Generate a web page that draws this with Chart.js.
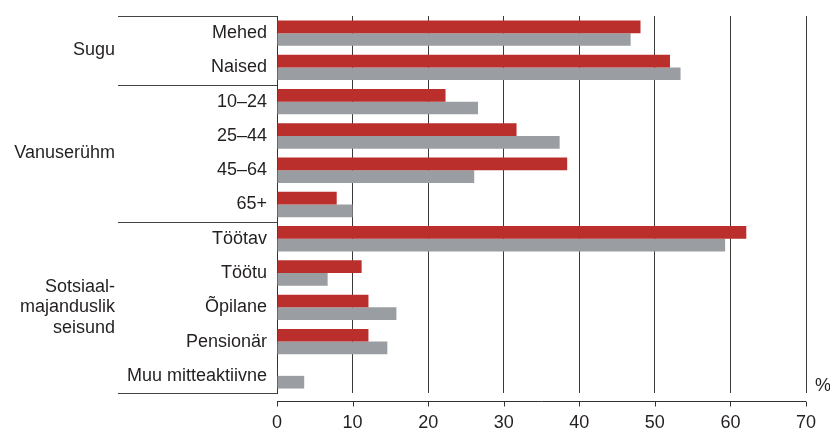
<!DOCTYPE html>
<html>
<head>
<meta charset="utf-8">
<script src="https://cdn.jsdelivr.net/npm/chart.js@4"></script>
<style>
  body { margin: 0; background: #fff; }
  #wrap { width: 830px; height: 429px; }
</style>
</head>
<body>
<div id="wrap"><canvas id="chart" width="830" height="429"></canvas></div>
<script>
// Andmed
const categories = ['Mehed', 'Naised', '10–24', '25–44', '45–64', '65+',
    'Töötav', 'Töötu', 'Õpilane', 'Pensionär', 'Muu mitteaktiivne'];
const redValues = [48.1, 52.0, 22.3, 31.7, 38.4, 7.9, 62.1, 11.2, 12.1, 12.1, null];
const grayValues = [46.8, 53.4, 26.6, 37.4, 26.1, 10.0, 59.3, 6.7, 15.8, 14.6, 3.6];
const groupNames = [['Sugu'], ['Vanuserühm'], ['Sotsiaal-', 'majanduslik', 'seisund']];
const groupSizes = [2, 4, 5];
const xMin = 0, xMax = 70, xStep = 10;

const FONT = "'Liberation Sans', Arial, Helvetica, sans-serif";
const TEXT = '#231f20';

// Grupid, eraldusjooned, eraldi x-telg ja %
const extrasPlugin = {
    id: 'extras',
    afterDraw(chart) {
        const ctx = chart.ctx;
        const area = chart.chartArea;
        const yScale = chart.scales.y;
        const xScale = chart.scales.x;
        const row = (area.bottom - area.top) / categories.length;

        ctx.save();
        ctx.strokeStyle = '#444';
        ctx.lineWidth = 1;
        ctx.fillStyle = TEXT;
        ctx.font = '18px ' + FONT;
        ctx.textAlign = 'right';
        ctx.textBaseline = 'middle';

        let start = 0;
        const lines = [0];
        groupSizes.forEach((size, g) => {
            const top = yScale.getPixelForValue(start) - row / 2;
            const bottom = yScale.getPixelForValue(start + size - 1) + row / 2;
            const mid = (top + bottom) / 2;
            const names = groupNames[g];
            const lh = 20.5;
            names.forEach((t, i) => {
                ctx.fillText(t, 115, mid + (i - (names.length - 1) / 2) * lh);
            });
            start += size;
            lines.push(start);
        });

        lines.forEach(k => {
            const y = Math.round(yScale.getPixelForValue(k) - row / 2) + 0.5;
            ctx.beginPath();
            ctx.moveTo(118, y);
            ctx.lineTo(area.left, y);
            ctx.stroke();
        });

        // x-telje joon veidi allpool
        const axisY = area.bottom + 8.5;
        ctx.strokeStyle = '#333';
        ctx.beginPath();
        ctx.moveTo(xScale.getPixelForValue(xMin), axisY);
        ctx.lineTo(xScale.getPixelForValue(xMax), axisY);
        ctx.stroke();
        for (let v = xMin; v <= xMax; v += xStep) {
            const x = Math.round(xScale.getPixelForValue(v)) + 0.5;
            ctx.beginPath();
            ctx.moveTo(x, axisY);
            ctx.lineTo(x, axisY + 5);
            ctx.stroke();
        }

        ctx.textAlign = 'left';
        ctx.textBaseline = 'alphabetic';
        ctx.fillText('%', 815, 391);
        ctx.restore();
    }
};

const chart = new Chart(document.getElementById('chart'), {
    type: 'bar',
    data: {
        labels: categories,
        datasets: [
            {
                data: redValues,
                backgroundColor: '#ba2f2c',
                borderWidth: 0,
                barPercentage: 1,
                categoryPercentage: 0.74
            },
            {
                data: grayValues,
                backgroundColor: '#9a9da1',
                borderWidth: 0,
                barPercentage: 1,
                categoryPercentage: 0.74
            }
        ]
    },
    options: {
        indexAxis: 'y',
        responsive: false,
        animation: false,
        layout: { padding: { top: 16, right: 24, left: 0, bottom: 0 } },
        plugins: {
            legend: { display: false },
            tooltip: { enabled: false }
        },
        scales: {
            x: {
                min: xMin,
                max: xMax,
                ticks: {
                    stepSize: xStep,
                    padding: 19,
                    color: TEXT,
                    font: { family: FONT, size: 18 }
                },
                grid: {
                    color: '#3a3a3a',
                    lineWidth: 1,
                    drawTicks: false
                },
                border: { display: false },
                afterFit(scale) {
                    scale.height = 36;
                    scale.paddingLeft = 0;
                    scale.paddingRight = 0;
                }
            },
            y: {
                ticks: {
                    autoSkip: false,
                    padding: 10,
                    color: TEXT,
                    font: { family: FONT, size: 18 }
                },
                grid: { display: false, drawTicks: false },
                border: { display: true, color: '#333', width: 1 },
                afterFit(scale) {
                    scale.width = 277;
                    scale.paddingTop = 0;
                    scale.paddingBottom = 0;
                }
            }
        }
    },
    plugins: [extrasPlugin]
});
</script>
</body>
</html>
